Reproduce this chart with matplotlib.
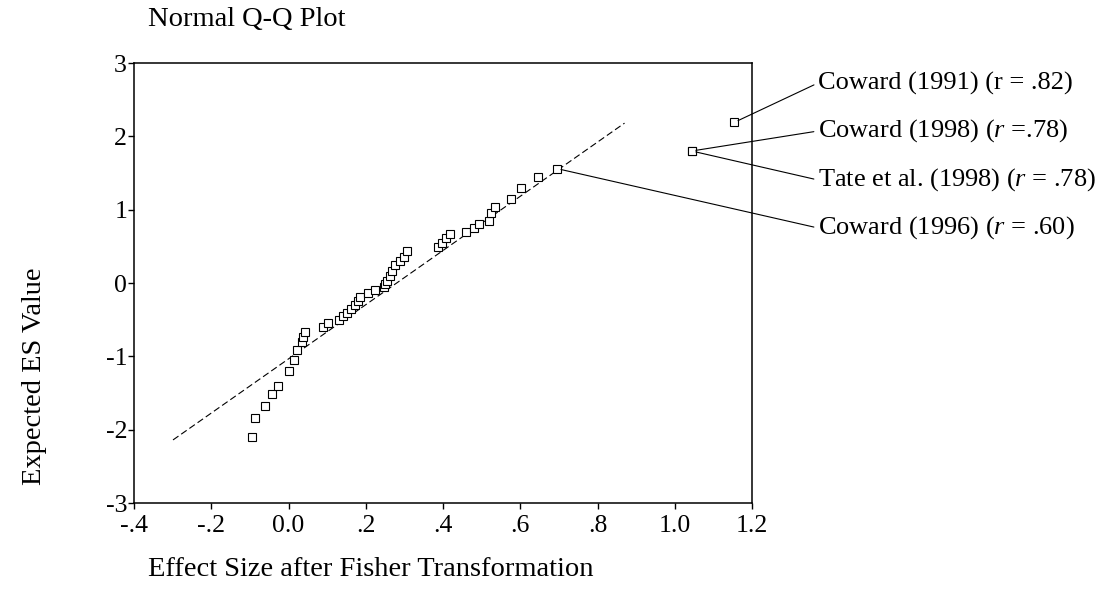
import numpy as np
import matplotlib
matplotlib.use("Agg")
import matplotlib.pyplot as plt

plt.rcParams['font.family'] = ['Liberation Serif', 'DejaVu Serif']
plt.rcParams['mathtext.fontset'] = 'custom'
plt.rcParams['mathtext.rm'] = 'Liberation Serif'
plt.rcParams['mathtext.it'] = 'Liberation Serif:italic'

# observed effect sizes (Fisher z) and expected normal values
effect_size = [-0.095, -0.088, -0.062, -0.042, -0.026, 0.002, 0.013, 0.021, 0.034, 0.037,
               0.043, 0.089, 0.102, 0.132, 0.142, 0.151, 0.161, 0.172, 0.180, 0.185,
               0.207, 0.223, 0.246, 0.250, 0.255, 0.262, 0.268, 0.276, 0.289, 0.298,
               0.308, 0.388, 0.397, 0.408, 0.419, 0.459, 0.479, 0.494, 0.518, 0.524,
               0.535, 0.576, 0.603, 0.645, 0.695, 1.044, 1.044, 1.154]
expected = [-2.10, -1.84, -1.68, -1.51, -1.41, -1.20, -1.05, -0.91, -0.80, -0.74,
            -0.67, -0.60, -0.54, -0.50, -0.45, -0.41, -0.35, -0.30, -0.24, -0.19,
            -0.14, -0.10, -0.06, -0.01, 0.03, 0.09, 0.17, 0.24, 0.30, 0.36,
            0.43, 0.49, 0.55, 0.61, 0.67, 0.70, 0.75, 0.81, 0.85, 0.95,
            1.04, 1.14, 1.29, 1.45, 1.56, 1.80, 1.80, 2.19]

# reference line ends
line_x = [-0.299, 0.87]
line_y = [-2.14, 2.18]

labels = ["Coward (1991) (r = .82)",
          "Coward (1998) ($r$ =.78)",
          "Tate et al. (1998) ($r$ = .78)",
          "Coward (1996) ($r$ = .60)"]
label_idx = [47, 46, 45, 44]

xticks = [-0.4, -0.2, 0.0, 0.2, 0.4, 0.6, 0.8, 1.0, 1.2]
xticklabels = ["-.4", "-.2", "0.0", ".2", ".4", ".6", ".8", "1.0", "1.2"]
yticks = [-3, -2, -1, 0, 1, 2, 3]

fig = plt.figure(figsize=(11.06, 6), dpi=100)
ax = fig.add_axes([134/1106, 1-503/600, (752-134)/1106, (503-63)/600])

ax.plot(line_x, line_y, color='black', lw=0.8, ls=(0, (6, 3)))
ax.plot(effect_size, expected, ls='none', marker='s', ms=5.5, mfc='white',
        mec='black', mew=0.8, clip_on=False)

ax.set_xlim(-0.4, 1.2)
ax.set_ylim(-3, 3)
ax.set_xticks(xticks)
ax.set_xticklabels(xticklabels)
ax.set_yticks(yticks)
ax.set_yticklabels([str(t) for t in yticks])
ax.tick_params(direction='out', length=4, width=1, labelsize=18.5)
ax.tick_params(axis='x', pad=5)
ax.tick_params(axis='y', pad=1)
for s in ax.spines.values():
    s.set_linewidth(1.1)

text_y = [83, 131, 180, 228]
for lab, i, ty in zip(labels, label_idx, text_y):
    ax.annotate(lab, xy=(effect_size[i], expected[i]), xycoords='data',
                xytext=(818, 600 - ty), textcoords='figure pixels',
                ha='left', va='center', fontsize=19, annotation_clip=False,
                arrowprops=dict(arrowstyle='-', lw=0.8, color='black',
                                shrinkA=1, shrinkB=3, relpos=(0, 0.5)))

fig.text(148/1106, 1-20/600, "Normal Q-Q Plot", ha='left', va='center', fontsize=20.5)
fig.text(148/1106, 1-570/600, "Effect Size after Fisher Transformation",
         ha='left', va='center', fontsize=20.5)
fig.text(35/1106, 1-376/600, "Expected ES Value", ha='center', va='center',
         rotation=90, fontsize=20.5)

fig.savefig("out.png", dpi=100)
